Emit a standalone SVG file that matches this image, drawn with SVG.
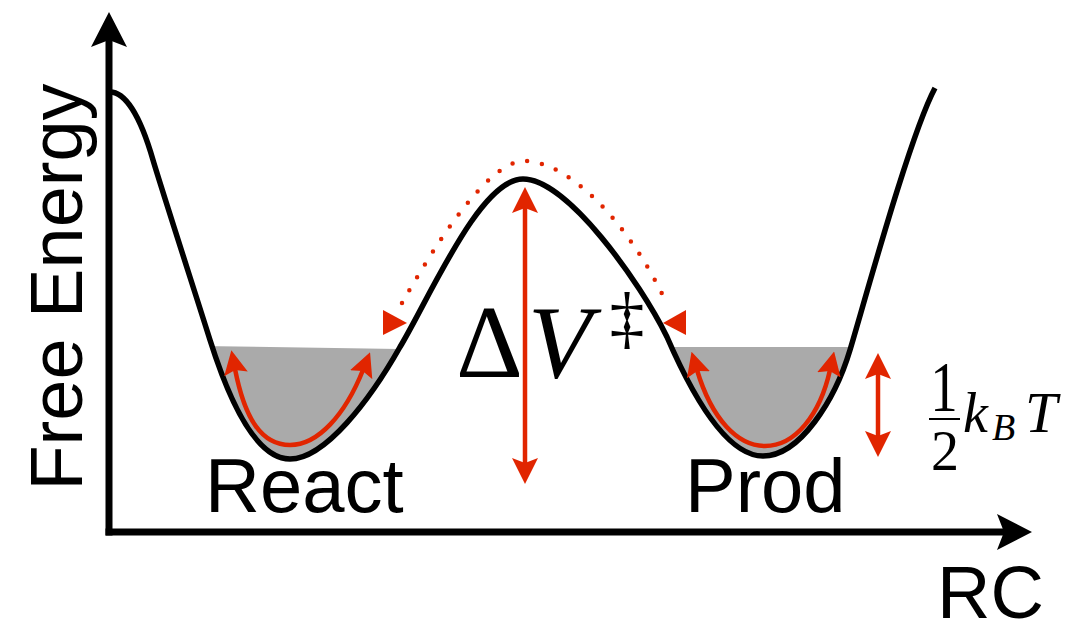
<svg xmlns="http://www.w3.org/2000/svg" width="1075" height="628" viewBox="0 0 1075 628">
<style>
.ax{stroke:#000;stroke-width:7;fill:none}
.curve{stroke:#000;stroke-width:5.5;fill:none;stroke-linejoin:round}
.red{stroke:#e12500;stroke-width:4.5;fill:none}
.redfill{fill:#e12500}
.lbl{font-family:"Liberation Sans",Arial,sans-serif;fill:#000}
.math{font-family:"Liberation Serif","Times New Roman",serif;fill:#000;font-weight:normal}
</style>
<defs>
<marker id="ah" viewBox="0 0 26 26" markerWidth="26" markerHeight="26" refX="6" refY="13" orient="auto-start-reverse" markerUnits="userSpaceOnUse">
<path d="M0,0 L26,13 L0,26 L5,13 Z" fill="#e12500"/>
</marker>
<marker id="ahs" viewBox="0 0 24 24" markerWidth="24" markerHeight="24" refX="5" refY="12" orient="auto-start-reverse" markerUnits="userSpaceOnUse">
<path d="M0,0 L24,12 L0,24 L4,12 Z" fill="#e12500"/>
</marker>
<clipPath id="above">
<path d="M110,92 C125,92 140,115 153,160 C160,184 200,308 210,340 C222,378 250,459 290,459 C325,459 370,400 400,347 C430,297 480,179 523,179 C567,179 640,282 667,337 C690,390 725,456 763,456 C800,456 835,400 850,350 C865,300 910,135 935,88 L935,0 L110,0 Z"/>
</clipPath>
</defs>

<g id="wells" clip-path="url(#above)" fill="#aaaaaa">
<polygon id="react-fill" points="200,346 399,349 399,475 200,475"/>
<polygon id="prod-fill" points="660,347 862,347 862,475 660,475"/>
</g>

<g id="energy-curve">
<path class="curve" d="M110,92 C125,92 140,115 153,160 C160,184 200,308 210,340 C222,378 250,459 290,459 C325,459 370,400 400,347 C430,297 480,179 523,179 C567,179 640,282 667,337 C690,390 725,456 763,456 C800,456 835,400 850,350 C865,300 910,135 935,88"/>
</g>

<g id="labels">
<text class="lbl" font-size="76" x="205" y="512">React</text>
<text class="lbl" font-size="76" x="685" y="512">Prod</text>
<text class="lbl" font-size="74" x="937" y="618">RC</text>
<text class="lbl" font-size="74" transform="translate(82,287) rotate(-90)" text-anchor="middle">Free Energy</text>
</g>

<g id="barrier-label">
<text class="math" font-size="104" x="456" y="377">Δ</text>
<text class="math" font-size="104" font-style="italic" x="528" y="377">V</text>
<text class="math" font-size="70" x="627" y="341" text-anchor="middle">‡</text>
</g>

<g id="kt-label">
<text class="math" font-size="55" transform="translate(944,411) scale(1,1.3)" text-anchor="middle">1</text>
<line x1="929" y1="419" x2="960" y2="419" stroke="#000" stroke-width="2"/>
<text class="math" font-size="56" x="945" y="470" text-anchor="middle">2</text>
<text class="math" font-size="56" font-style="italic" x="963" y="432">k</text>
<text class="math" font-size="38" font-style="italic" x="992" y="440">B</text>
<text class="math" font-size="58" font-style="italic" x="1025" y="432">T</text>
</g>

<g id="connectors">
<path id="react-osc" class="red" d="M235,369 C245,420 262,445 290,445 C318,445 345,415 363,370" marker-start="url(#ahs)" marker-end="url(#ahs)"/>
<path id="prod-osc" class="red" d="M697,370 C712,420 738,446 765,446 C795,446 820,415 830,370" marker-start="url(#ahs)" marker-end="url(#ahs)"/>
<line id="dv-arrow" class="red" x1="525" y1="207" x2="525" y2="464" marker-start="url(#ah)" marker-end="url(#ah)"/>
<line id="kt-arrow" class="red" x1="878" y1="373" x2="878" y2="437" marker-start="url(#ah)" marker-end="url(#ah)"/>
<path id="crossing" class="red" stroke-width="6" stroke-linecap="round" stroke-dasharray="0 15" d="M402,303 C435,245 488,161 524,161 C570,161 630,225 666,302"/>
<polygon class="redfill" points="383,310 407,323 383,335"/>
<polygon class="redfill" points="686,310 663,323 686,335"/>
</g>

<g id="axes">
<line class="ax" x1="109" y1="38" x2="109" y2="535.5"/>
<polygon points="109,12 127,47 109,40 91,47" fill="#000"/>
<line class="ax" x1="105.5" y1="532" x2="1006" y2="532"/>
<polygon points="1032,532 997,514 1004,532 997,550" fill="#000"/>
</g>
</svg>
